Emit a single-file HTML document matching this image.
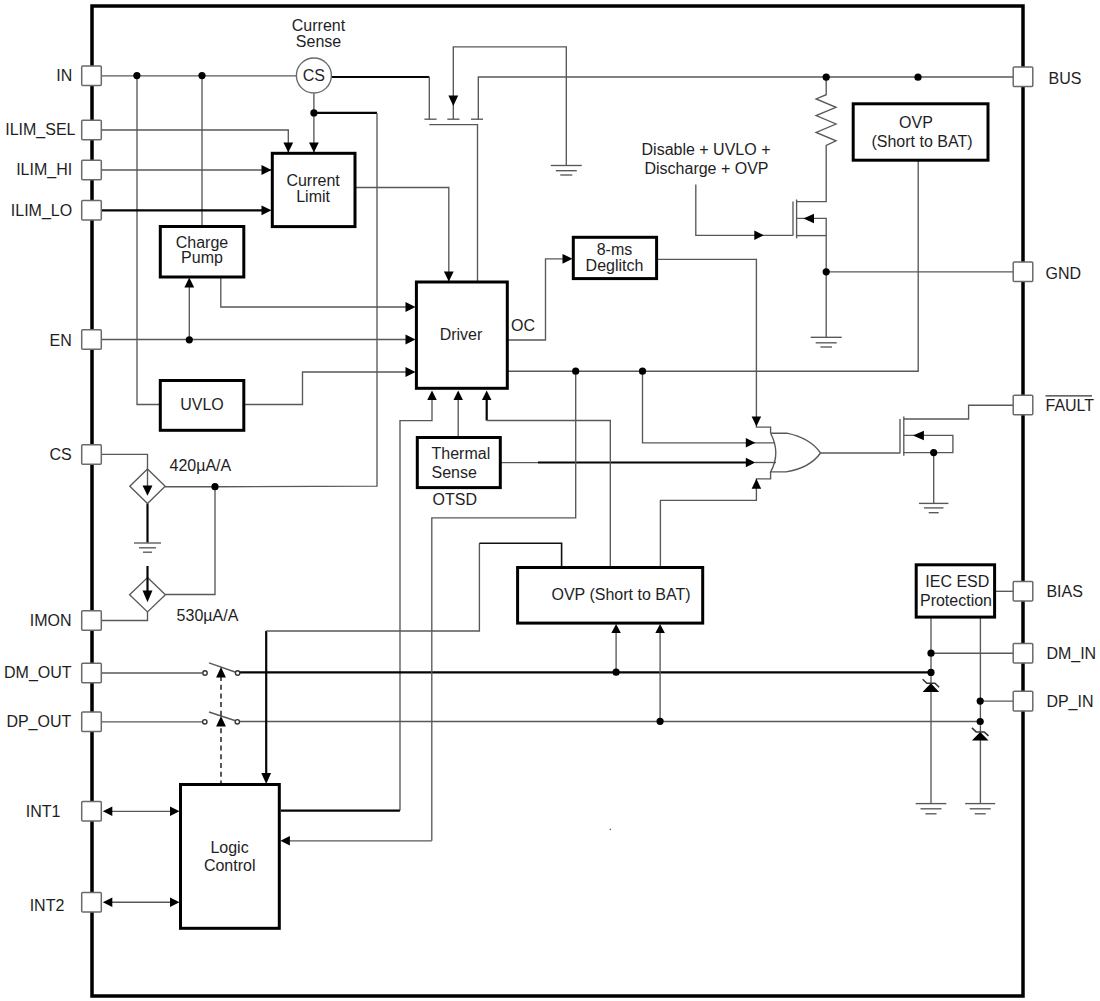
<!DOCTYPE html>
<html><head><meta charset="utf-8"><style>
html,body{margin:0;padding:0;background:#fff;}
svg{display:block;}
text{font-family:"Liberation Sans",sans-serif;fill:#1e1e24;}
</style></head><body>
<svg width="1100" height="1001" viewBox="0 0 1100 1001">
<rect width="1100" height="1001" fill="#fff"/>
<polyline points="101,75.8 296,75.8" stroke="#585858" stroke-width="1.35" fill="none" />
<polyline points="137,75.8 137,404.5 160,404.5" stroke="#585858" stroke-width="1.35" fill="none" />
<polyline points="202,75.8 202,226" stroke="#585858" stroke-width="1.35" fill="none" />
<polyline points="331,77 429.3,77" stroke="#050505" stroke-width="2.2" fill="none" />
<polyline points="429.3,77 429.3,119.2" stroke="#585858" stroke-width="1.35" fill="none" />
<polyline points="424.4,119.2 436.6,119.2" stroke="#585858" stroke-width="1.35" fill="none" />
<polyline points="447.3,119.2 459.5,119.2" stroke="#585858" stroke-width="1.35" fill="none" />
<polyline points="471,119.2 483,119.2" stroke="#585858" stroke-width="1.35" fill="none" />
<polyline points="429.3,124.6 477.5,124.6 477.5,282" stroke="#585858" stroke-width="1.35" fill="none" />
<polyline points="566.3,165.5 566.3,46.8 453.3,46.8 453.3,119.2" stroke="#585858" stroke-width="1.35" fill="none" />
<line x1="550.8" y1="165.5" x2="581.8" y2="165.5" stroke="#585858" stroke-width="1.35" fill="none"/>
<line x1="555.8" y1="170.7" x2="576.8" y2="170.7" stroke="#585858" stroke-width="1.35" fill="none"/>
<line x1="560.3" y1="175.0" x2="572.3" y2="175.0" stroke="#585858" stroke-width="1.35" fill="none"/>
<polyline points="478.3,119.2 478.3,77 1013,77" stroke="#585858" stroke-width="1.35" fill="none" />
<polyline points="313.9,93.5 313.9,152.5" stroke="#585858" stroke-width="1.35" fill="none" />
<polyline points="313.9,112.9 377,112.9" stroke="#050505" stroke-width="2.2" fill="none" />
<polyline points="377,112.9 377,486.2 215,486.7" stroke="#585858" stroke-width="1.35" fill="none" />
<polyline points="101,130 288.3,130 288.3,152.5" stroke="#585858" stroke-width="1.35" fill="none" />
<polyline points="101,170 272,170" stroke="#585858" stroke-width="1.35" fill="none" />
<polyline points="101,210.3 266,210.3" stroke="#050505" stroke-width="2.2" fill="none" />
<polyline points="355,187.5 448.8,187.5 448.8,281" stroke="#585858" stroke-width="1.35" fill="none" />
<polyline points="220.8,277 220.8,307 412,307" stroke="#585858" stroke-width="1.35" fill="none" />
<polyline points="101,339.5 412,339.5" stroke="#585858" stroke-width="1.35" fill="none" />
<polyline points="189.3,339.8 189.3,280" stroke="#585858" stroke-width="1.35" fill="none" />
<polyline points="244,404.5 302.5,404.5 302.5,372 412,372" stroke="#585858" stroke-width="1.35" fill="none" />
<polyline points="507,340 545.5,340 545.5,258.8 568,258.8" stroke="#585858" stroke-width="1.35" fill="none" />
<polyline points="656.8,259.3 756.4,259.3 756.4,427.1 770.6,427.1 770.6,433.2" stroke="#585858" stroke-width="1.35" fill="none" />
<polyline points="507,371.2 918.2,371.2 918.2,160.4" stroke="#585858" stroke-width="1.35" fill="none" />
<polyline points="642.5,371.2 642.5,442.8 775,442.8" stroke="#585858" stroke-width="1.35" fill="none" />
<polyline points="500,462.6 538,462.6" stroke="#585858" stroke-width="1.35" fill="none" />
<polyline points="538,462.5 750,462.5" stroke="#050505" stroke-width="2.2" fill="none" />
<polyline points="755,462.5 776,462.5" stroke="#585858" stroke-width="1.35" fill="none" />
<polyline points="660.4,567.3 660.4,500.3 756.4,500.3 756.4,478.8 770.6,478.8 770.6,471.9" stroke="#585858" stroke-width="1.35" fill="none" />
<polyline points="826.2,77.2 826.2,94.7 816.1,98.9 836,107.3 816.1,115.6 836,124 816.1,132.4 836,140.8 826.2,145.4 826.2,201.6 796.2,201.6" stroke="#585858" stroke-width="1.35" fill="none" />
<polyline points="793,201.6 793,235.6" stroke="#585858" stroke-width="1.35" fill="none" />
<polyline points="796.6,199.5 796.6,238.3" stroke="#585858" stroke-width="1.35" fill="none" />
<polyline points="796.6,218.4 826.2,218.4 826.2,337.3" stroke="#585858" stroke-width="1.35" fill="none" />
<polyline points="796.6,235.6 826.2,235.6" stroke="#585858" stroke-width="1.35" fill="none" />
<polyline points="695.8,184.5 695.8,235.3 793,235.3" stroke="#585858" stroke-width="1.35" fill="none" />
<polyline points="826.2,271.8 1013,271.8" stroke="#585858" stroke-width="1.35" fill="none" />
<line x1="810.7" y1="337.3" x2="841.7" y2="337.3" stroke="#585858" stroke-width="1.35" fill="none"/>
<line x1="815.7" y1="342.8" x2="836.7" y2="342.8" stroke="#585858" stroke-width="1.35" fill="none"/>
<line x1="820.45" y1="347.0" x2="831.95" y2="347.0" stroke="#585858" stroke-width="1.35" fill="none"/>
<polyline points="820.5,453 900,453" stroke="#585858" stroke-width="1.35" fill="none" />
<polyline points="900,419 900,453.3" stroke="#585858" stroke-width="1.35" fill="none" />
<polyline points="903.8,416.5 903.8,455.8" stroke="#585858" stroke-width="1.35" fill="none" />
<polyline points="903.8,419 968.6,419 968.6,405.2 1013,405.2" stroke="#585858" stroke-width="1.35" fill="none" />
<polyline points="903.8,435.4 952.9,435.4 952.9,452.6 903.8,452.6" stroke="#585858" stroke-width="1.35" fill="none" />
<polyline points="933.7,452.6 933.7,503.4" stroke="#585858" stroke-width="1.35" fill="none" />
<line x1="918.95" y1="503.4" x2="948.45" y2="503.4" stroke="#585858" stroke-width="1.35" fill="none"/>
<line x1="923.95" y1="507.9" x2="943.45" y2="507.9" stroke="#585858" stroke-width="1.35" fill="none"/>
<line x1="928.7" y1="512.6999999999999" x2="938.7" y2="512.6999999999999" stroke="#585858" stroke-width="1.35" fill="none"/>
<path d="M770.6,433.2 L786.8,433.2 Q810,438 820.5,453 Q810,468 785.9,471.9 L770.6,471.9 Q781,453 770.6,433.2" stroke="#585858" stroke-width="1.35" fill="none"/>
<polyline points="432,392 432,420.6 400,420.6 400,810.6" stroke="#585858" stroke-width="1.35" fill="none" />
<polyline points="399.9,810.6 281,810.6" stroke="#050505" stroke-width="2.2" fill="none" />
<polyline points="458.2,437.3 458.2,392" stroke="#585858" stroke-width="1.35" fill="none" />
<polyline points="486.7,395 486.7,420.5" stroke="#050505" stroke-width="2.2" fill="none" />
<polyline points="486.7,420.5 610.3,420.5 610.3,567.3" stroke="#585858" stroke-width="1.35" fill="none" />
<polyline points="101,454.3 147.5,454.3 147.5,469" stroke="#585858" stroke-width="1.35" fill="none" />
<polyline points="165,486.7 215,486.7 215,594.5 165.4,594.5" stroke="#585858" stroke-width="1.35" fill="none" />
<polyline points="147.5,503.6 147.5,542.6" stroke="#050505" stroke-width="2.2" fill="none" />
<line x1="134.0" y1="543" x2="161.0" y2="543" stroke="#585858" stroke-width="1.35" fill="none"/>
<line x1="139.0" y1="547.8" x2="156.0" y2="547.8" stroke="#585858" stroke-width="1.35" fill="none"/>
<line x1="143.0" y1="552.2" x2="152.0" y2="552.2" stroke="#585858" stroke-width="1.35" fill="none"/>
<polyline points="147.5,612 147.5,620.5 101,620.5" stroke="#585858" stroke-width="1.35" fill="none" />
<polygon points="147.5,469 165.2,486.3 147.5,503.6 129.8,486.3" stroke="#585858" stroke-width="1.35" fill="none"/>
<polygon points="147.5,577.6 165.4,594.8 147.5,611.9 129.6,594.8" stroke="#585858" stroke-width="1.35" fill="none"/>
<polyline points="147.5,469 147.5,488" stroke="#585858" stroke-width="1.35" fill="none" />
<polyline points="147.5,566 147.5,594" stroke="#050505" stroke-width="2.2" fill="none" />
<polyline points="101,673 202.5,673" stroke="#585858" stroke-width="1.35" fill="none" />
<circle cx="205" cy="673" r="2.2" fill="#fff" stroke="#333" stroke-width="1.4"/>
<polyline points="209,662.8 235,672" stroke="#585858" stroke-width="1.35" fill="none" />
<circle cx="237.6" cy="673" r="2.2" fill="#fff" stroke="#333" stroke-width="1.4"/>
<polyline points="240.1,672.4 931,672.4" stroke="#050505" stroke-width="2.2" fill="none" />
<polyline points="101,721.8 202.3,721.8" stroke="#585858" stroke-width="1.35" fill="none" />
<circle cx="204.8" cy="721.8" r="2.2" fill="#fff" stroke="#333" stroke-width="1.4"/>
<polyline points="209,712 234.8,720.5" stroke="#585858" stroke-width="1.35" fill="none" />
<circle cx="237.3" cy="721.8" r="2.2" fill="#fff" stroke="#333" stroke-width="1.4"/>
<polyline points="239.8,721.5 980,721.5" stroke="#585858" stroke-width="1.35" fill="none" />
<line x1="221" y1="676" x2="221" y2="784" stroke="#222" stroke-width="1.5" stroke-dasharray="5,3.7"/>
<polyline points="266.2,630.9 266.2,776" stroke="#050505" stroke-width="2.2" fill="none" />
<polyline points="266.2,631 479.4,631 479.4,543.2" stroke="#585858" stroke-width="1.35" fill="none" />
<polyline points="479.4,543.2 561.6,543.2 561.6,567.3" stroke="#111" stroke-width="1.6" fill="none" />
<polyline points="431.8,840.8 289,840.8" stroke="#585858" stroke-width="1.35" fill="none" />
<polyline points="431.8,840.8 431.8,517.8 575.7,517.8 575.7,371.2" stroke="#585858" stroke-width="1.35" fill="none" />
<polyline points="616.1,632 616.1,672.2" stroke="#585858" stroke-width="1.35" fill="none" />
<polyline points="660.1,632 660.1,721.3" stroke="#585858" stroke-width="1.35" fill="none" />
<polyline points="994.8,591.3 1013,591.3" stroke="#585858" stroke-width="1.35" fill="none" />
<polyline points="931,617.3 931,803.6" stroke="#585858" stroke-width="1.35" fill="none" />
<polyline points="980.4,617.3 980.4,803.6" stroke="#585858" stroke-width="1.35" fill="none" />
<polyline points="931,653.2 1013,653.2" stroke="#585858" stroke-width="1.35" fill="none" />
<polyline points="980.2,701.1 1013,701.1" stroke="#585858" stroke-width="1.35" fill="none" />
<line x1="915.7" y1="803.6" x2="946.3" y2="803.6" stroke="#585858" stroke-width="1.35" fill="none"/>
<line x1="920.5" y1="808.8000000000001" x2="941.5" y2="808.8000000000001" stroke="#585858" stroke-width="1.35" fill="none"/>
<line x1="925.5" y1="813.8000000000001" x2="936.5" y2="813.8000000000001" stroke="#585858" stroke-width="1.35" fill="none"/>
<line x1="965.2" y1="803.6" x2="995.2" y2="803.6" stroke="#585858" stroke-width="1.35" fill="none"/>
<line x1="969.7" y1="808.8000000000001" x2="990.7" y2="808.8000000000001" stroke="#585858" stroke-width="1.35" fill="none"/>
<line x1="974.7" y1="813.8000000000001" x2="985.7" y2="813.8000000000001" stroke="#585858" stroke-width="1.35" fill="none"/>
<polygon points="930.9,683.3 922.6,692.1 939.1999999999999,692.1" fill="#000"/>
<polyline points="922.6,679.3 926.9,683.3 934.9,683.3 939.1999999999999,687.3" stroke="#333" stroke-width="1.5" fill="none"/>
<polygon points="980.2,731.9 971.9000000000001,740.4 988.5,740.4" fill="#000"/>
<polyline points="971.9000000000001,727.9 976.2,731.9 984.2,731.9 988.5,735.9" stroke="#333" stroke-width="1.5" fill="none"/>
<polyline points="110,811.3 171,811.3" stroke="#585858" stroke-width="1.35" fill="none" />
<polyline points="110,902.2 171,902.2" stroke="#585858" stroke-width="1.35" fill="none" />
<circle cx="610.3" cy="829.4" r="0.8" fill="#666"/>
<rect x="272.3" y="153.3" width="82.69999999999999" height="73.29999999999998" fill="#fff" stroke="#000" stroke-width="3"/>
<rect x="160.3" y="226.5" width="83.5" height="50.5" fill="#fff" stroke="#000" stroke-width="3"/>
<rect x="160.3" y="380.5" width="83.5" height="49.80000000000001" fill="#fff" stroke="#000" stroke-width="3"/>
<rect x="416.4" y="282" width="90.90000000000003" height="106.30000000000001" fill="#fff" stroke="#000" stroke-width="3"/>
<rect x="573.3" y="237.3" width="83.30000000000007" height="41.30000000000001" fill="#fff" stroke="#000" stroke-width="3"/>
<rect x="853.2" y="103.8" width="134.79999999999995" height="56.39999999999999" fill="#fff" stroke="#000" stroke-width="3"/>
<rect x="417.3" y="437.5" width="83.0" height="50.10000000000002" fill="#fff" stroke="#000" stroke-width="3"/>
<rect x="517.6" y="567.5" width="185.10000000000002" height="55.60000000000002" fill="#fff" stroke="#000" stroke-width="3"/>
<rect x="916.2" y="564.8" width="78.39999999999998" height="52.30000000000007" fill="#fff" stroke="#000" stroke-width="3"/>
<rect x="180.5" y="784.5" width="98.80000000000001" height="143.79999999999995" fill="#fff" stroke="#000" stroke-width="3"/>
<circle cx="313.9" cy="75.5" r="17.5" fill="#fff" stroke="#6a6a6a" stroke-width="1.4"/>
<rect x="92" y="6" width="931" height="990" fill="none" stroke="#000" stroke-width="3.5"/>
<rect x="81.7" y="66.0" width="19.6" height="19.6" rx="1" fill="#fff" stroke="#6a6a6a" stroke-width="1.5"/>
<rect x="81.7" y="120.2" width="19.6" height="19.6" rx="1" fill="#fff" stroke="#6a6a6a" stroke-width="1.5"/>
<rect x="81.7" y="160.2" width="19.6" height="19.6" rx="1" fill="#fff" stroke="#6a6a6a" stroke-width="1.5"/>
<rect x="81.7" y="200.5" width="19.6" height="19.6" rx="1" fill="#fff" stroke="#6a6a6a" stroke-width="1.5"/>
<rect x="81.7" y="329.7" width="19.6" height="19.6" rx="1" fill="#fff" stroke="#6a6a6a" stroke-width="1.5"/>
<rect x="81.7" y="444.7" width="19.6" height="19.6" rx="1" fill="#fff" stroke="#6a6a6a" stroke-width="1.5"/>
<rect x="81.7" y="610.7" width="19.6" height="19.6" rx="1" fill="#fff" stroke="#6a6a6a" stroke-width="1.5"/>
<rect x="81.7" y="663.2" width="19.6" height="19.6" rx="1" fill="#fff" stroke="#6a6a6a" stroke-width="1.5"/>
<rect x="81.7" y="712.0" width="19.6" height="19.6" rx="1" fill="#fff" stroke="#6a6a6a" stroke-width="1.5"/>
<rect x="81.7" y="801.5" width="19.6" height="19.6" rx="1" fill="#fff" stroke="#6a6a6a" stroke-width="1.5"/>
<rect x="81.7" y="892.4000000000001" width="19.6" height="19.6" rx="1" fill="#fff" stroke="#6a6a6a" stroke-width="1.5"/>
<rect x="1013.2" y="67.0" width="19.6" height="19.6" rx="1" fill="#fff" stroke="#6a6a6a" stroke-width="1.5"/>
<rect x="1013.2" y="262.0" width="19.6" height="19.6" rx="1" fill="#fff" stroke="#6a6a6a" stroke-width="1.5"/>
<rect x="1013.2" y="395.2" width="19.6" height="19.6" rx="1" fill="#fff" stroke="#6a6a6a" stroke-width="1.5"/>
<rect x="1013.2" y="581.4000000000001" width="19.6" height="19.6" rx="1" fill="#fff" stroke="#6a6a6a" stroke-width="1.5"/>
<rect x="1013.2" y="643.4000000000001" width="19.6" height="19.6" rx="1" fill="#fff" stroke="#6a6a6a" stroke-width="1.5"/>
<rect x="1013.2" y="691.3000000000001" width="19.6" height="19.6" rx="1" fill="#fff" stroke="#6a6a6a" stroke-width="1.5"/>
<text x="72.2" y="81.2" text-anchor="end" font-size="16" >IN</text>
<text x="75.5" y="135.4" text-anchor="end" font-size="16" >ILIM_SEL</text>
<text x="72.2" y="175.4" text-anchor="end" font-size="16" >ILIM_HI</text>
<text x="72.2" y="215.70000000000002" text-anchor="end" font-size="16" >ILIM_LO</text>
<text x="71.8" y="345.6" text-anchor="end" font-size="16" >EN</text>
<text x="71.8" y="459.9" text-anchor="end" font-size="16" >CS</text>
<text x="71.6" y="625.9" text-anchor="end" font-size="16" >IMON</text>
<text x="71.6" y="678.4" text-anchor="end" font-size="16" >DM_OUT</text>
<text x="71.3" y="727.1999999999999" text-anchor="end" font-size="16" >DP_OUT</text>
<text x="60.5" y="816.6999999999999" text-anchor="end" font-size="16" >INT1</text>
<text x="47" y="910.5" text-anchor="middle" font-size="16" >INT2</text>
<text x="1048.5" y="83.6" text-anchor="start" font-size="16" >BUS</text>
<text x="1045.5" y="278.5" text-anchor="start" font-size="16" >GND</text>
<text x="1045.5" y="410.9" text-anchor="start" font-size="16" >FAULT</text>
<line x1="1045.5" y1="395.8" x2="1092" y2="395.8" stroke="#333" stroke-width="1.2"/>
<text x="1046.4" y="596.6" text-anchor="start" font-size="16" >BIAS</text>
<text x="1046.4" y="658.6" text-anchor="start" font-size="16" >DM_IN</text>
<text x="1046.4" y="706.5" text-anchor="start" font-size="16" >DP_IN</text>
<text x="318.5" y="31" text-anchor="middle" font-size="16" >Current</text>
<text x="318.5" y="47" text-anchor="middle" font-size="16" >Sense</text>
<text x="313.9" y="81" text-anchor="middle" font-size="16" >CS</text>
<text x="313.1" y="186" text-anchor="middle" font-size="16" >Current</text>
<text x="313.1" y="202" text-anchor="middle" font-size="16" >Limit</text>
<text x="202" y="248.2" text-anchor="middle" font-size="16" >Charge</text>
<text x="202" y="263" text-anchor="middle" font-size="16" >Pump</text>
<text x="202" y="410" text-anchor="middle" font-size="16" >UVLO</text>
<text x="461" y="339.5" text-anchor="middle" font-size="16" >Driver</text>
<text x="523" y="330.5" text-anchor="middle" font-size="16" >OC</text>
<text x="614.5" y="255" text-anchor="middle" font-size="16" >8-ms</text>
<text x="614.5" y="271" text-anchor="middle" font-size="16" >Deglitch</text>
<text x="706" y="155" text-anchor="middle" font-size="16" >Disable + UVLO +</text>
<text x="706.5" y="174" text-anchor="middle" font-size="16" >Discharge + OVP</text>
<text x="916" y="128" text-anchor="middle" font-size="16" >OVP</text>
<text x="922" y="146.6" text-anchor="middle" font-size="16" >(Short to BAT)</text>
<text x="431.5" y="458.5" text-anchor="start" font-size="16" >Thermal</text>
<text x="431.5" y="477.5" text-anchor="start" font-size="16" >Sense</text>
<text x="432.5" y="504.7" text-anchor="start" font-size="16" >OTSD</text>
<text x="169.5" y="471" text-anchor="start" font-size="16" >420µA/A</text>
<text x="176.6" y="620.5" text-anchor="start" font-size="16" >530µA/A</text>
<text x="621" y="600.3" text-anchor="middle" font-size="16" >OVP (Short to BAT)</text>
<text x="957.3" y="587" text-anchor="middle" font-size="16" >IEC ESD</text>
<text x="956" y="606" text-anchor="middle" font-size="16" >Protection</text>
<text x="229.5" y="852.5" text-anchor="middle" font-size="16" >Logic</text>
<text x="229.7" y="870.8" text-anchor="middle" font-size="16" >Control</text>
<circle cx="136.9" cy="75.6" r="3.6" fill="#000"/>
<circle cx="202" cy="75.6" r="3.6" fill="#000"/>
<polygon points="453.30,106.00 448.40,95.50 458.20,95.50" fill="#000"/>
<circle cx="826.2" cy="77.2" r="3.6" fill="#000"/>
<circle cx="918" cy="77.2" r="3.6" fill="#000"/>
<polygon points="313.90,152.50 309.00,142.50 318.80,142.50" fill="#000"/>
<circle cx="313.9" cy="112.9" r="3.6" fill="#000"/>
<polygon points="288.30,152.50 283.40,142.50 293.20,142.50" fill="#000"/>
<polygon points="271.50,170.00 261.50,165.10 261.50,174.90" fill="#000"/>
<polygon points="271.50,210.30 261.50,205.40 261.50,215.20" fill="#000"/>
<polygon points="448.80,281.50 443.90,271.50 453.70,271.50" fill="#000"/>
<polygon points="415.50,307.00 405.50,302.10 405.50,311.90" fill="#000"/>
<polygon points="415.50,339.50 405.50,334.60 405.50,344.40" fill="#000"/>
<circle cx="189.3" cy="339.8" r="3.6" fill="#000"/>
<polygon points="189.30,277.50 184.40,287.50 194.20,287.50" fill="#000"/>
<polygon points="415.50,372.00 405.50,367.10 405.50,376.90" fill="#000"/>
<polygon points="572.50,258.80 562.50,253.90 562.50,263.70" fill="#000"/>
<polygon points="756.40,426.60 751.65,416.60 761.15,416.60" fill="#000"/>
<circle cx="575.7" cy="371.2" r="3.6" fill="#000"/>
<circle cx="642.5" cy="371.2" r="3.6" fill="#000"/>
<polygon points="755.30,442.80 745.80,438.05 745.80,447.55" fill="#000"/>
<polygon points="755.30,462.50 745.80,457.75 745.80,467.25" fill="#000"/>
<polygon points="756.40,478.80 751.65,488.80 761.15,488.80" fill="#000"/>
<polygon points="803.50,218.40 814.00,213.65 814.00,223.15" fill="#000"/>
<polygon points="763.80,235.30 754.30,230.55 754.30,240.05" fill="#000"/>
<circle cx="826.2" cy="271.8" r="3.6" fill="#000"/>
<polygon points="912.90,435.40 923.90,430.65 923.90,440.15" fill="#000"/>
<circle cx="933.7" cy="452.6" r="3.6" fill="#000"/>
<polygon points="432.00,390.60 427.25,400.10 436.75,400.10" fill="#000"/>
<polygon points="458.20,390.60 453.45,400.10 462.95,400.10" fill="#000"/>
<polygon points="486.70,390.60 481.95,400.10 491.45,400.10" fill="#000"/>
<circle cx="215" cy="486.7" r="3.6" fill="#000"/>
<polygon points="147.50,495.80 142.55,485.40 152.45,485.40" fill="#000"/>
<polygon points="147.50,602.30 142.55,590.60 152.45,590.60" fill="#000"/>
<polygon points="221.00,667.00 216.10,677.50 225.90,677.50" fill="#000"/>
<polygon points="221.00,716.00 216.10,726.50 225.90,726.50" fill="#000"/>
<polygon points="266.20,784.00 261.30,773.00 271.10,773.00" fill="#000"/>
<polygon points="280.40,840.80 289.90,836.05 289.90,845.55" fill="#000"/>
<polygon points="616.10,624.00 611.35,633.00 620.85,633.00" fill="#000"/>
<circle cx="616.1" cy="672.2" r="3.6" fill="#000"/>
<polygon points="660.10,624.00 655.35,633.00 664.85,633.00" fill="#000"/>
<circle cx="660.1" cy="721.3" r="3.6" fill="#000"/>
<circle cx="931" cy="653.2" r="3.6" fill="#000"/>
<circle cx="931" cy="672.4" r="3.6" fill="#000"/>
<circle cx="980.2" cy="701.1" r="3.6" fill="#000"/>
<circle cx="980.2" cy="721.5" r="3.6" fill="#000"/>
<polygon points="102.80,811.30 112.30,806.55 112.30,816.05" fill="#000"/>
<polygon points="179.50,811.30 170.00,806.55 170.00,816.05" fill="#000"/>
<polygon points="102.80,902.20 112.30,897.45 112.30,906.95" fill="#000"/>
<polygon points="179.50,902.20 170.00,897.45 170.00,906.95" fill="#000"/>
</svg></body></html>
